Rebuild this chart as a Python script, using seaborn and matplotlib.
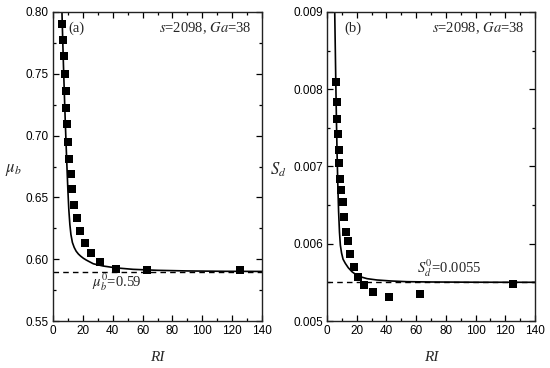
import matplotlib
matplotlib.use("Agg")
import matplotlib.pyplot as plt
import seaborn as sns
import pandas as pd
from matplotlib.ticker import MultipleLocator, FormatStrFormatter

# ---- data ----
ri_a = [6.2, 6.9, 7.6, 8.0, 8.5, 8.9, 9.6, 10.0, 10.7, 11.8, 12.7, 14.3, 16.1, 18.3,
        21.2, 25.2, 31.7, 42.0, 62.7, 125.2]
mu_b = [0.790, 0.777, 0.764, 0.750, 0.736, 0.722, 0.709, 0.695, 0.681, 0.669, 0.657,
        0.644, 0.633, 0.623, 0.613, 0.605, 0.598, 0.592, 0.591, 0.591]

fit_ri_a = [6.0, 6.5, 7.0, 7.6, 8.2, 8.8, 9.4, 10.0, 10.6, 11.3, 12.0, 13.0, 14.2, 15.5,
            17.0, 18.5, 20.3, 22.3, 27.0, 33.5, 42.0, 53.6, 70.0, 90.0, 115.0, 140.0]
fit_mu_b = [0.800, 0.778, 0.757, 0.734, 0.712, 0.692, 0.673, 0.655, 0.640, 0.628, 0.620,
            0.6135, 0.6095, 0.6065, 0.6042, 0.6025, 0.6008, 0.5993, 0.5963, 0.5945,
            0.5930, 0.5918, 0.5910, 0.5905, 0.5902, 0.5901]

ri_b = [6.1, 6.5, 6.9, 7.4, 7.8, 8.3, 9.0, 9.4, 10.5, 11.4, 12.6, 13.9, 15.7, 18.0,
        20.9, 24.9, 31.2, 41.7, 62.6, 125.2]
s_d = [0.00810, 0.00783, 0.00761, 0.00742, 0.00721, 0.00705, 0.00684, 0.00669, 0.00654,
       0.00634, 0.00615, 0.00603, 0.00587, 0.00570, 0.00557, 0.00547, 0.00538, 0.00531,
       0.00535, 0.00548]

fit_ri_b = [5.2, 5.6, 6.0, 6.4, 6.8, 7.3, 7.8, 8.4, 9.0, 9.8, 10.8, 12.3, 14.3, 16.8,
            19.5, 22.4, 27.0, 33.6, 43.0, 53.8, 70.0, 100.0, 140.0]
fit_s_d = [0.00900, 0.00850, 0.00800, 0.00755, 0.00715, 0.00675, 0.00642, 0.00615,
           0.00598, 0.00588, 0.00580, 0.005747, 0.00569, 0.005638, 0.005600, 0.005573,
           0.005548, 0.005531, 0.005518, 0.005509, 0.005505, 0.005502, 0.005501]

mu_b0 = 0.59
s_d0 = 0.0055

# ---- styling ----
sns.set_style("ticks")
SANS = ["Liberation Sans", "DejaVu Sans"]
SERIF = ["Liberation Serif", "DejaVu Serif"]
plt.rcParams["font.family"] = SANS
plt.rcParams["mathtext.fontset"] = "stix"

fig = plt.figure(figsize=(5.5, 3.68), dpi=100)
ax1 = fig.add_axes([53 / 550, 47 / 368, 209 / 550, 309 / 368])
ax2 = fig.add_axes([327 / 550, 47 / 368, 208 / 550, 309 / 368])


def style(ax, ymin, ymax, ymaj, ymin_step, fmt):
    ax.set_xlim(0, 140)
    ax.set_ylim(ymin, ymax)
    ax.xaxis.set_major_locator(MultipleLocator(20))
    ax.xaxis.set_minor_locator(MultipleLocator(10))
    ax.yaxis.set_major_locator(MultipleLocator(ymaj))
    ax.yaxis.set_minor_locator(MultipleLocator(ymin_step))
    ax.yaxis.set_major_formatter(FormatStrFormatter(fmt))
    ax.tick_params(which="both", direction="in", top=True, right=True,
                   labelsize=8.5, colors="black", pad=3)
    ax.tick_params(which="major", length=4, width=0.9)
    ax.tick_params(which="minor", length=2.3, width=0.9)
    for lab in ax.get_xticklabels() + ax.get_yticklabels():
        lab.set_fontfamily(SANS)
    for sp in ax.spines.values():
        sp.set_visible(True)
        sp.set_linewidth(1.0)
        sp.set_color("#222222")
    ax.set_xlabel("RI", family=SERIF, style="italic", fontsize=11, labelpad=10)


# ---- panel (a) ----
dfa = pd.DataFrame({"RI": ri_a, "mu": mu_b})
dfa_fit = pd.DataFrame({"RI": fit_ri_a, "mu": fit_mu_b})
ax1.axhline(mu_b0, color="black", lw=1.0, ls=(0, (4, 3)))
sns.lineplot(data=dfa_fit, x="RI", y="mu", ax=ax1, color="black", lw=1.2,
             sort=False, estimator=None)
sns.scatterplot(data=dfa, x="RI", y="mu", ax=ax1, marker="s", s=26,
                color="black", edgecolor="black", linewidth=0, zorder=5)
style(ax1, 0.55, 0.80, 0.05, 0.025, "%.2f")
ax1.set_ylabel(r"$\mu_b$", fontsize=12, rotation=0, va="center", ha="center")
ax1.yaxis.set_label_coords(-0.19, 0.49)
ax1.text(10, 0.787, "(a)", family=SERIF, fontsize=10.5, va="center")
ax1.text(133, 0.787, "$s$=2098, $Ga$=38", family=SERIF, fontsize=10.5,
         va="center", ha="right")
ax1.text(26, 0.581, r"$\mu_b^{0}$=0.59", family=SERIF, fontsize=10.5,
         va="center", ha="left")

# ---- panel (b) ----
dfb = pd.DataFrame({"RI": ri_b, "Sd": s_d})
dfb_fit = pd.DataFrame({"RI": fit_ri_b, "Sd": fit_s_d})
ax2.axhline(s_d0, color="black", lw=1.0, ls=(0, (4, 3)))
sns.lineplot(data=dfb_fit, x="RI", y="Sd", ax=ax2, color="black", lw=1.2,
             sort=False, estimator=None)
sns.scatterplot(data=dfb, x="RI", y="Sd", ax=ax2, marker="s", s=26,
                color="black", edgecolor="black", linewidth=0, zorder=5)
style(ax2, 0.005, 0.009, 0.001, 0.0005, "%.3f")
ax2.set_ylabel(r"$S_d$", fontsize=12, rotation=0, va="center", ha="center")
ax2.yaxis.set_label_coords(-0.235, 0.49)
ax2.text(12, 0.00879, "(b)", family=SERIF, fontsize=10.5, va="center")
ax2.text(133, 0.00879, "$s$=2098, $Ga$=38", family=SERIF, fontsize=10.5,
         va="center", ha="right")
ax2.text(60.5, 0.00568, r"$S_d^{0}$=0.0055", family=SERIF, fontsize=10.5,
         va="center", ha="left")

fig.savefig("out.png", dpi=100)
